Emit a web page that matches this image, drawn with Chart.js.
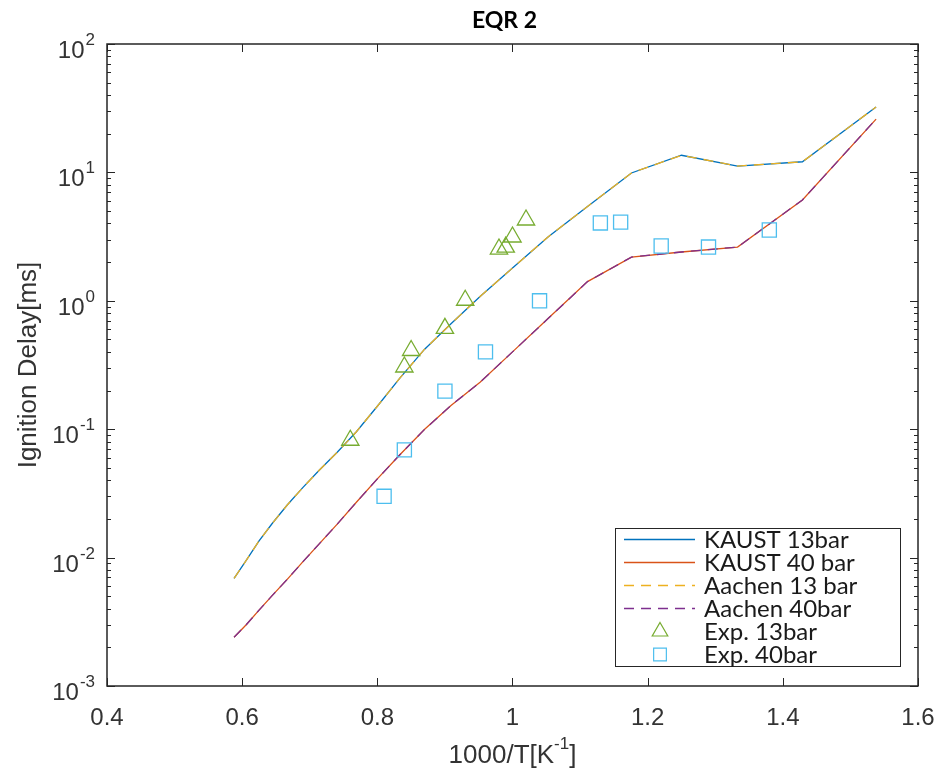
<!DOCTYPE html>
<html>
<head>
<meta charset="utf-8">
<script src="https://cdn.jsdelivr.net/npm/chart.js@4.4.0/dist/chart.umd.min.js"></script>
<style>
  html, body { margin: 0; padding: 0; background: #fff; }
  #wrap { width: 942px; height: 773px; }
</style>
</head>
<body>
<div id="wrap"><canvas id="chart"></canvas></div>
<script>
// 1000/T grid of the model runs
const invT = [0.588, 0.606, 0.625, 0.645, 0.667, 0.690, 0.714, 0.741, 0.769, 0.800, 0.833,
              0.870, 0.909, 0.952, 1.000, 1.053, 1.111, 1.176, 1.250, 1.333, 1.429, 1.538];
const kaust13 = [0.0069, 0.0095, 0.0135, 0.0186, 0.0258, 0.0352, 0.0479, 0.0664, 0.0955, 0.151, 0.249,
                 0.42, 0.662, 1.08, 1.80, 3.16, 5.43, 9.9, 13.6, 11.2, 12.1, 32.3];
const kaust40 = [0.0024, 0.0030, 0.0039, 0.0051, 0.0068, 0.0093, 0.0128, 0.0183, 0.027, 0.041, 0.063,
                 0.0998, 0.153, 0.232, 0.40, 0.73, 1.41, 2.19, 2.40, 2.62, 6.1, 26.0];
const aachen13 = [0.0069, 0.0095, 0.0135, 0.0186, 0.0258, 0.0352, 0.0479, 0.0664, 0.0955, 0.151, 0.249,
                  0.42, 0.662, 1.08, 1.80, 3.16, 5.43, 9.9, 13.6, 11.2, 12.1, 32.3];
const aachen40 = [0.0024, 0.0030, 0.0039, 0.0051, 0.0068, 0.0093, 0.0128, 0.0183, 0.027, 0.041, 0.063,
                  0.0998, 0.153, 0.232, 0.40, 0.73, 1.41, 2.19, 2.40, 2.62, 6.1, 26.0];

const exp13X = [0.76, 0.84, 0.85, 0.90, 0.93, 0.98, 0.99, 1.00, 1.02];
const exp13Y = [0.082, 0.305, 0.41, 0.61, 1.01, 2.53, 2.62, 3.14, 4.26];
const exp40X = [0.81, 0.84, 0.90, 0.96, 1.04, 1.13, 1.16, 1.22, 1.29, 1.38];
const exp40Y = [0.030, 0.069, 0.198, 0.40, 1.0, 4.04, 4.1, 2.67, 2.62, 3.56];

const xTicks = [0.4, 0.6, 0.8, 1, 1.2, 1.4, 1.6];
const yDecades = [-3, -2, -1, 0, 1, 2];

const chartTitle = 'EQR 2';
const yTitle = 'Ignition Delay[ms]';

const AXIS = '#262626';
const SANS = '"Liberation Sans", Arial, sans-serif';
const LEG_FONT = '24px Lato, "Open Sans", sans-serif';

function pairs(xs, ys) {
    return xs.map((x, i) => ({ x: x, y: ys[i] }));
}

function lineSet(label, ys, color, dash, order) {
    return {
        type: 'line',
        label: label,
        data: pairs(invT, ys),
        borderColor: color,
        borderWidth: 1.3,
        borderDash: dash,
        pointRadius: 0,
        fill: false,
        tension: 0,
        order: order
    };
}

function markerSet(label, xs, ys, color, style) {
    return {
        type: 'scatter',
        label: label,
        data: pairs(xs, ys),
        pointStyle: style,
        pointRadius: 10,
        pointBorderWidth: 1.3,
        borderColor: color,
        backgroundColor: 'rgba(0,0,0,0)',
        order: 0
    };
}

// "10" with a raised exponent, right edge at x
function drawPower(ctx, base, exp, x, y, baseSize, supSize) {
    ctx.font = supSize + 'px ' + SANS;
    const sw = ctx.measureText(exp).width;
    ctx.font = baseSize + 'px ' + SANS;
    const bw = ctx.measureText(base).width;
    ctx.textAlign = 'left';
    ctx.fillText(base, x - sw - bw - 1, y);
    ctx.font = supSize + 'px ' + SANS;
    ctx.fillText(exp, x - sw, y - 13);
}

const matlabAxes = {
    id: 'matlabAxes',
    afterDatasetsDraw(chart) {
        const ctx = chart.ctx;
        const a = chart.chartArea;
        const xs = chart.scales.x, ys = chart.scales.y;
        ctx.save();

        // box
        ctx.strokeStyle = AXIS;
        ctx.lineWidth = 1.5;
        ctx.strokeRect(a.left, a.top, a.right - a.left, a.bottom - a.top);

        // ticks, pointing inwards on all four sides
        ctx.lineWidth = 1;
        ctx.beginPath();
        xTicks.forEach(v => {
            const px = Math.round(xs.getPixelForValue(v)) + 0.5;
            ctx.moveTo(px, a.bottom); ctx.lineTo(px, a.bottom - 8);
            ctx.moveTo(px, a.top); ctx.lineTo(px, a.top + 8);
        });
        yDecades.forEach(d => {
            const py = Math.round(ys.getPixelForValue(Math.pow(10, d))) + 0.5;
            ctx.moveTo(a.left, py); ctx.lineTo(a.left + 8, py);
            ctx.moveTo(a.right, py); ctx.lineTo(a.right - 8, py);
            if (d < 2) {
                for (let k = 2; k <= 9; k++) {
                    const pm = Math.round(ys.getPixelForValue(k * Math.pow(10, d))) + 0.5;
                    ctx.moveTo(a.left, pm); ctx.lineTo(a.left + 4, pm);
                    ctx.moveTo(a.right, pm); ctx.lineTo(a.right - 4, pm);
                }
            }
        });
        ctx.stroke();

        // tick labels
        ctx.fillStyle = '#333';
        ctx.textBaseline = 'alphabetic';
        ctx.font = '24px ' + SANS;
        ctx.textAlign = 'center';
        xTicks.forEach(v => {
            ctx.fillText(String(v), xs.getPixelForValue(v), a.bottom + 39);
        });
        yDecades.forEach(d => {
            const py = ys.getPixelForValue(Math.pow(10, d));
            drawPower(ctx, '10', String(d), a.left - 12, py + 14, 24, 17);
        });

        // axis titles
        const xParts = ['1000/T[K', '-1', ']'];
        ctx.font = '26px ' + SANS;
        const w0 = ctx.measureText(xParts[0]).width;
        const w2 = ctx.measureText(xParts[2]).width;
        ctx.font = '17px ' + SANS;
        const w1 = ctx.measureText(xParts[1]).width;
        const cx = (a.left + a.right) / 2;
        const sx = cx - (w0 + w1 + w2) / 2;
        const by = a.bottom + 77;
        ctx.textAlign = 'left';
        ctx.font = '26px ' + SANS;
        ctx.fillText(xParts[0], sx, by);
        ctx.font = '17px ' + SANS;
        ctx.fillText(xParts[1], sx + w0, by - 14);
        ctx.font = '26px ' + SANS;
        ctx.fillText(xParts[2], sx + w0 + w1, by);

        ctx.save();
        ctx.translate(36, (a.top + a.bottom) / 2);
        ctx.rotate(-Math.PI / 2);
        ctx.textAlign = 'center';
        ctx.fillText(yTitle, 0, 0);
        ctx.restore();

        // title
        ctx.fillStyle = '#000';
        ctx.font = 'bold 23px Lato, "Open Sans", sans-serif';
        ctx.textAlign = 'center';
        ctx.fillText(chartTitle, cx - 8, 28);

        // legend box inside the axes
        const L = { left: 615, top: 528, right: 900, row: 23 };
        const sets = chart.data.datasets;
        const bottom = L.top + L.row * sets.length;
        ctx.fillStyle = '#fff';
        ctx.fillRect(L.left, L.top, L.right - L.left, bottom - L.top);
        ctx.strokeStyle = AXIS;
        ctx.lineWidth = 1;
        ctx.strokeRect(L.left + 0.5, L.top + 0.5, L.right - L.left, bottom - L.top);
        sets.forEach((ds, i) => {
            const yc = L.top + L.row * (i + 0.5);
            ctx.strokeStyle = ds.borderColor;
            if (ds.type === 'line') {
                ctx.lineWidth = 1.3;
                ctx.setLineDash(ds.borderDash || []);
                ctx.beginPath();
                ctx.moveTo(624, yc); ctx.lineTo(695, yc);
                ctx.stroke();
                ctx.setLineDash([]);
            } else {
                ctx.lineWidth = 1.2;
                ctx.beginPath();
                const mx = 660, r = 9;
                if (ds.pointStyle === 'triangle') {
                    ctx.moveTo(mx, yc - r);
                    ctx.lineTo(mx + r * 0.866, yc + r / 2);
                    ctx.lineTo(mx - r * 0.866, yc + r / 2);
                    ctx.closePath();
                } else {
                    const h = r * Math.SQRT1_2;
                    ctx.rect(mx - h, yc - h, 2 * h, 2 * h);
                }
                ctx.stroke();
            }
            ctx.fillStyle = '#1a1a1a';
            ctx.font = LEG_FONT;
            ctx.textAlign = 'left';
            ctx.fillText(ds.label, 704, yc + 8);
        });

        ctx.restore();
    }
};

new Chart(document.getElementById('chart'), {
    data: {
        datasets: [
            lineSet('KAUST 13bar', kaust13, '#0072BD', [], 2),
            lineSet('KAUST 40 bar', kaust40, '#D95319', [], 2),
            lineSet('Aachen 13 bar', aachen13, '#EDB120', [10, 7], 1),
            lineSet('Aachen 40bar', aachen40, '#7E2F8E', [10, 7], 1),
            markerSet('Exp. 13bar', exp13X, exp13Y, '#77AC30', 'triangle'),
            markerSet('Exp. 40bar', exp40X, exp40Y, '#4DBEEE', 'rect')
        ]
    },
    options: {
        responsive: true,
        maintainAspectRatio: false,
        animation: false,
        layout: { padding: { top: 44, right: 24, left: 0, bottom: 0 } },
        plugins: {
            legend: { display: false },
            title: { display: false },
            tooltip: { enabled: false }
        },
        scales: {
            x: {
                type: 'linear',
                min: 0.4,
                max: 1.6,
                grid: { display: false },
                border: { display: false },
                ticks: { display: false },
                afterFit: s => { s.height = 87; }
            },
            y: {
                type: 'logarithmic',
                min: 0.001,
                max: 100,
                grid: { display: false },
                border: { display: false },
                ticks: { display: false },
                afterFit: s => { s.width = 107; }
            }
        }
    },
    plugins: [matlabAxes]
});
</script>
</body>
</html>
